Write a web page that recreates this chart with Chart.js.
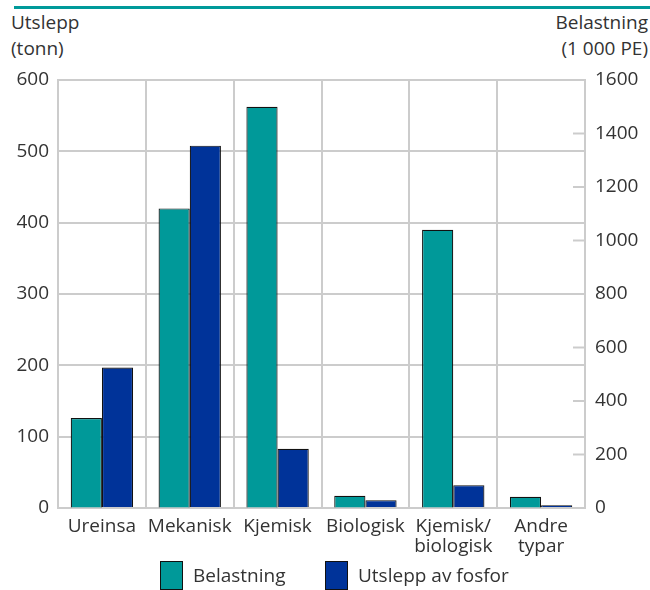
<!DOCTYPE html>
<html>
<head>
<meta charset="utf-8">
<script src="https://cdn.jsdelivr.net/npm/chart.js@4.4.0/dist/chart.umd.min.js"></script>
<style>
  html, body { margin: 0; padding: 0; background: #fff; }
  #wrap { position: relative; width: 650px; height: 590px; overflow: hidden; font-family: "Open Sans", "Noto Sans", sans-serif; color: #333; }
  #topline { position: absolute; left: 14px; right: 0; top: 6px; height: 3px; background: #009a9a; }
  .ttl { position: absolute; font-size: 19px; line-height: 26px; }
  #tl { left: 11px; top: 9px; }
  #tr { right: 2px; top: 9px; text-align: right; }
  canvas { position: absolute; left: 0; top: 0; }
  .lg { position: absolute; top: 561px; height: 28px; display: flex; align-items: center; font-size: 19px; }
  .lg .box { width: 21px; height: 27px; border: 1px solid #111; margin-right: 10px; }
</style>
</head>
<body>
<div id="wrap">
  <div id="topline"></div>
  <div class="ttl" id="tl">Utslepp<br>(tonn)</div>
  <div class="ttl" id="tr">Belastning<br>(1 000 PE)</div>
  <canvas id="c" width="650" height="590"></canvas>
  <div id="legend"></div>
</div>
<script>
const categories = ["Ureinsa", "Mekanisk", "Kjemisk", "Biologisk", ["Kjemisk/", "biologisk"], ["Andre", "typar"]];
const belastning = [336, 1120, 1500, 46, 1040, 42];      // 1 000 PE (right axis)
const utslepp = [197, 508, 83, 11, 32, 4];                 // tonn (left axis)
const leftTicks = [0, 100, 200, 300, 400, 500, 600];
const rightTicks = [0, 200, 400, 600, 800, 1000, 1200, 1400, 1600];
const seriesNames = ["Belastning", "Utslepp av fosfor"];
const seriesColors = ["#009999", "#003399"];

const FONT = { family: '"Open Sans", "Noto Sans", sans-serif', size: 19 };
const XFONT = { family: '"Open Sans", "Noto Sans", sans-serif', size: 19, lineHeight: 1.05 };
const GRID = '#cccccc';
const TXT = '#333';

const innerTicks = {
  id: 'innerTicks',
  afterDatasetsDraw(chart) {
    const s = chart.scales.y1;
    const ctx = chart.ctx;
    ctx.save();
    ctx.strokeStyle = GRID;
    ctx.lineWidth = 2;
    s.ticks.forEach(t => {
      const y = s.getPixelForValue(t.value);
      ctx.beginPath();
      ctx.moveTo(s.left - 12, y);
      ctx.lineTo(s.left, y);
      ctx.stroke();
    });
    ctx.restore();
  }
};

// legend (HTML) built from the series names/colours
const legendPos = [160, 325];
const lgEl = document.getElementById('legend');
seriesNames.forEach((n, i) => {
  const d = document.createElement('div');
  d.className = 'lg';
  d.style.left = legendPos[i] + 'px';
  d.innerHTML = '<div class="box" style="background:' + seriesColors[i] + '"></div><span>' + n + '</span>';
  lgEl.appendChild(d);
});

new Chart(document.getElementById('c'), {
  type: 'bar',
  data: {
    labels: categories,
    datasets: [
      { label: seriesNames[0], data: belastning, yAxisID: 'y1',
        backgroundColor: seriesColors[0], borderColor: '#111', borderWidth: 1.2,
        categoryPercentage: 0.71, barPercentage: 1.0 },
      { label: seriesNames[1], data: utslepp, yAxisID: 'y',
        backgroundColor: seriesColors[1], borderColor: '#111', borderWidth: 1.2,
        categoryPercentage: 0.71, barPercentage: 1.0 }
    ]
  },
  options: {
    responsive: false,
    animation: false,
    layout: { padding: { top: 80, left: 0, right: 0, bottom: 30 } },
    plugins: {
      tooltip: { enabled: false },
      legend: { display: false }
    },
    scales: {
      x: {
        offset: true,
        afterFit: (s) => { s.height = 52; },
        grid: { offset: true, color: GRID, lineWidth: 2, drawTicks: false },
        border: { color: GRID, width: 2 },
        ticks: { font: XFONT, color: TXT, padding: 9, maxRotation: 0, autoSkip: false }
      },
      y: {
        position: 'left', min: 0, max: 600,
        afterBuildTicks: (s) => { s.ticks = leftTicks.map(v => ({ value: v })); },
        afterFit: (s) => { s.width = 58; },
        grid: { color: GRID, lineWidth: 2, drawTicks: false },
        border: { color: GRID, width: 2 },
        ticks: { font: FONT, color: TXT, padding: 9, callback: (v) => String(v) }
      },
      y1: {
        position: 'right', min: 0, max: 1600,
        afterBuildTicks: (s) => { s.ticks = rightTicks.map(v => ({ value: v })); },
        afterFit: (s) => { s.width = 65; },
        grid: { drawOnChartArea: false, drawTicks: false },
        border: { color: GRID, width: 2 },
        ticks: { font: FONT, color: TXT, padding: 10, callback: (v) => String(v) }
      }
    }
  },
  plugins: [innerTicks]
});
</script>
</body>
</html>
